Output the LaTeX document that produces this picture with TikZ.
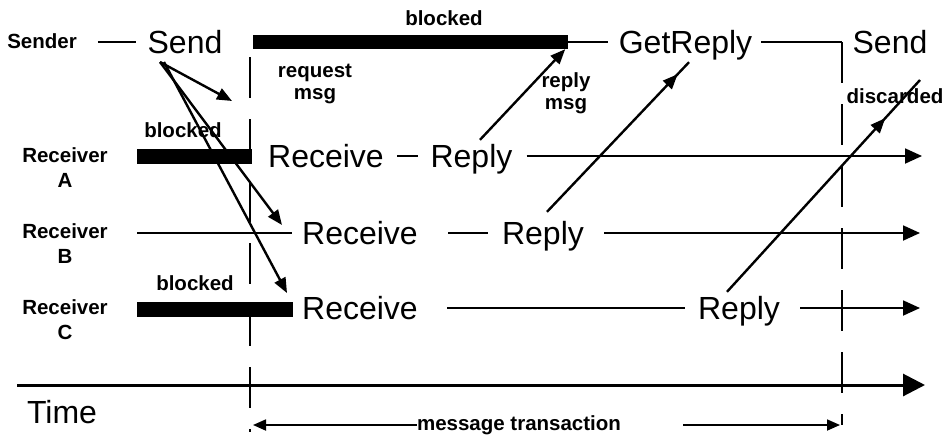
\documentclass[tikz,border=0pt]{standalone}
\usepackage{fontspec}
\setmainfont{Liberation Sans}
\usetikzlibrary{arrows.meta,decorations.markings}

\begin{document}
\begin{tikzpicture}[
        x=1pt, y=-1pt,
        bigText/.style={inner sep=0pt, text height=22pt, text depth=0pt, font=\fontsize{32}{36}\selectfont},
        smallText/.style={inner sep=0pt, align=center, font=\bfseries\fontsize{20.5}{25}\selectfont},
        msgText/.style={smallText, font=\bfseries\fontsize{20.5}{22}\selectfont},
        barNode/.style={rectangle, fill=black, inner sep=0pt},
        thinLine/.style={line width=1.8pt},
        timeLine/.style={thinLine, -{Triangle[length=17pt,width=15pt]}},
        msgArrow/.style={line width=2.4pt, -{Triangle[length=15pt,width=12pt]}},
        midArrow/.style={line width=2.4pt, postaction={decorate},
            decoration={markings, mark=at position #1 with {\arrow{Triangle[length=15pt,width=12pt]}}}},
        dashLine/.style={line width=2pt, dash pattern=on 41pt off 21pt}
    ]
        \useasboundingbox (0,0) rectangle (949,437);

        % Sender row
        \node[smallText] (sender) at (42,41) {Sender};
        \node[bigText] (send1) at (185,42) {Send};
        \node[barNode, minimum width=315pt, minimum height=14pt] (sbar) at (410.5,42) {};
        \node[smallText] (blk1) at (444,18) {blocked};
        \node[bigText] (getreply) at (685.5,42) {GetReply};
        \node[bigText] (send2) at (890,42) {Send};
        \node[msgText] (reqmsg) at (315,84) {request\\msg};
        \node[msgText] (repmsg) at (566,93) {reply\\msg};
        \node[smallText] (disc) at (895,96) {discarded};

        % Receiver A
        \node[smallText] (rcvA) at (65,168) {Receiver\\A};
        \node[barNode, minimum width=115pt, minimum height=15pt] (barA) at (194.5,156.5) {};
        \node[smallText] (blkA) at (183,130) {blocked};
        \node[bigText] (recvA) at (326,156) {Receive};
        \node[bigText] (replyA) at (471.5,156) {Reply};
        \coordinate (endA) at (922,156);

        % Receiver B
        \node[smallText] (rcvB) at (65,244) {Receiver\\B};
        \coordinate (startB) at (137,233);
        \node[bigText] (recvB) at (360,233) {Receive};
        \node[bigText] (replyB) at (543,233) {Reply};
        \coordinate (endB) at (920,233);

        % Receiver C
        \node[smallText] (rcvC) at (65,320) {Receiver\\C};
        \node[barNode, minimum width=156pt, minimum height=15pt] (barC) at (215,309.5) {};
        \node[smallText] (blkC) at (195,283) {blocked};
        \node[bigText] (recvC) at (360,308) {Receive};
        \node[bigText] (replyC) at (739,308) {Reply};
        \coordinate (endC) at (920,308);

        % Time axis
        \node[bigText] (time) at (62,412) {Time};
        \coordinate (tStart) at (17,385);
        \coordinate (tEnd) at (925,385);
        \node[smallText] (msgtr) at (519,425) {message transaction};
        \coordinate (trL) at (253,425);
        \coordinate (trR) at (840,425);

        % Transaction bounds and free ends
        \coordinate (leftTop) at (250,57);
        \coordinate (leftBot) at (250,432);
        \coordinate (corner) at (842,42);
        \coordinate (rightBot) at (842,425);
        \coordinate (sendFoot) at (160,62);
        \coordinate (reqEnd) at (232,101);
        \coordinate (discEnd) at (920,80);

        % Sender edges
        \draw[thinLine, shorten <=21pt, shorten >=11pt] (sender.east |- send1.west) -- (send1.west);
        \draw[thinLine, shorten >=11pt] (sbar.east) -- (getreply.west);
        \draw[thinLine, shorten <=9pt] (getreply.east) -- (corner);
        \draw[dashLine] (corner) -- (rightBot);
        \draw[dashLine] (leftTop) -- (leftBot);

        % Receiver edges
        \draw[thinLine, shorten <=13pt, shorten >=12pt] (recvA.east) -- (replyA.west);
        \draw[timeLine, shorten <=14pt] (replyA.east) -- (endA);
        \draw[thinLine, shorten >=10pt] (startB) -- (recvB.west);
        \draw[thinLine, shorten <=30pt, shorten >=14pt] (recvB.east) -- (replyB.west);
        \draw[timeLine, shorten <=20pt] (replyB.east) -- (endB);
        \draw[thinLine, shorten <=29pt, shorten >=13pt] (recvC.east) -- (replyC.west);
        \draw[timeLine, shorten <=20pt] (replyC.east) -- (endC);

        % Messages
        \draw[msgArrow] (sendFoot) -- (reqEnd);
        \draw[msgArrow] (sendFoot) -- ([xshift=-20pt,yshift=8pt]recvB.west);
        \draw[msgArrow] ([xshift=4pt]sendFoot) -- ([xshift=-15pt,yshift=15pt]recvC.west);
        \draw[msgArrow] ([xshift=8.5pt,yshift=5pt]replyA.north) -- ([xshift=-3pt]sbar.south east);
        \draw[midArrow=0.92] ([xshift=4pt,yshift=10pt]replyB.north) -- ([xshift=3.5pt,yshift=-9pt]getreply.south);
        \draw[midArrow=0.82] ([xshift=-12pt,yshift=5pt]replyC.north) -- (discEnd);

        % Time
        \draw[line width=3pt, -{Triangle[length=22pt,width=22pt]}] (tStart) -- (tEnd);
        \draw[thinLine, -{Triangle[length=13pt,width=11pt]}] (msgtr.west) -- (trL);
        \draw[thinLine, -{Triangle[length=13pt,width=11pt]}, shorten <=62pt] (msgtr.east) -- (trR);
    \end{tikzpicture}
\end{document}
